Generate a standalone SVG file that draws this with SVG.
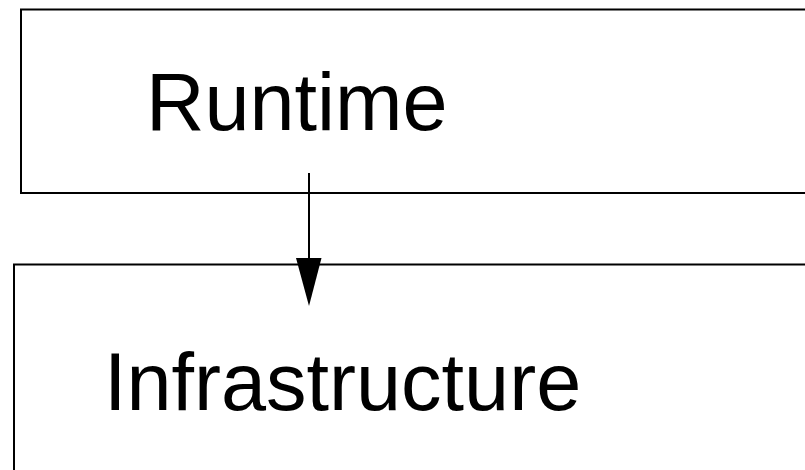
<svg xmlns="http://www.w3.org/2000/svg" width="805" height="470" viewBox="0 0 805 470">
<style>
.box{fill:#fff;stroke:#000;stroke-width:2}
.lbl{font-family:"Liberation Sans",Arial,sans-serif;font-size:81px;fill:#000}
.edge{stroke:#000;stroke-width:2;fill:none}
.head{fill:#000}
</style>
<rect width="805" height="470" fill="#fff"/>
<g id="runtime">
<rect class="box" x="21" y="9.5" width="800" height="183.5"/>
<text class="lbl" x="146" y="130">Runtime</text>
</g>
<g id="infrastructure">
<rect class="box" x="14" y="264.5" width="810" height="230"/>
<text class="lbl" x="104" y="410">Infrastructure</text>
</g>
<g id="connectors">
<line class="edge" x1="309" y1="173" x2="309" y2="259"/>
<polygon class="head" points="296,258 321.5,258 309,306"/>
</g>
</svg>
